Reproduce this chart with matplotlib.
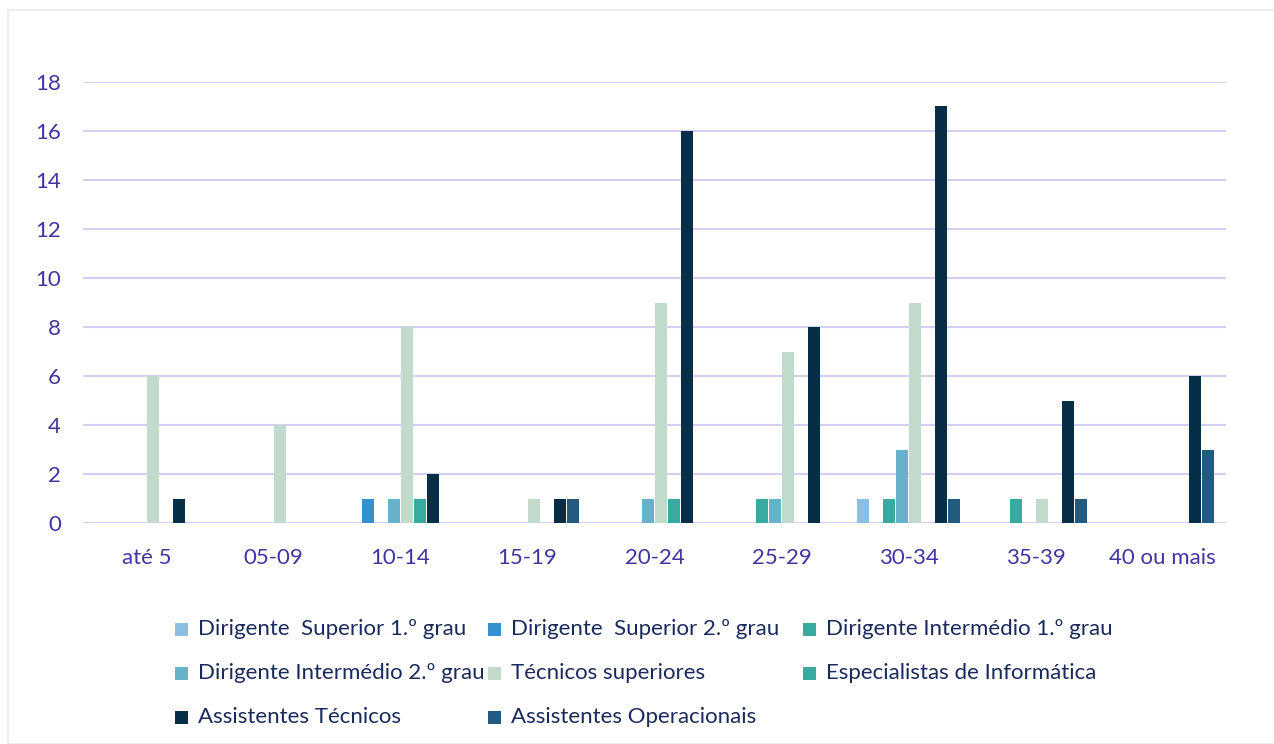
import matplotlib.pyplot as plt
from matplotlib.patches import Rectangle
import numpy as np

plt.rcParams['font.family'] = ['Lato', 'DejaVu Sans']

categories = ["até 5", "05-09", "10-14", "15-19", "20-24",
              "25-29", "30-34", "35-39", "40 ou mais"]

series_names = ["Dirigente  Superior 1.º grau",
                "Dirigente  Superior 2.º grau",
                "Dirigente Intermédio 1.º grau",
                "Dirigente Intermédio 2.º grau",
                "Técnicos superiores",
                "Especialistas de Informática",
                "Assistentes Técnicos",
                "Assistentes Operacionais"]

dir_sup_1 = [0, 0, 0, 0, 0, 0, 1, 0, 0]
dir_sup_2 = [0, 0, 1, 0, 0, 0, 0, 0, 0]
dir_int_1 = [0, 0, 0, 0, 0, 1, 1, 1, 0]
dir_int_2 = [0, 0, 1, 0, 1, 1, 3, 0, 0]
tec_sup = [6, 4, 8, 1, 9, 7, 9, 1, 0]
esp_inf = [0, 0, 1, 0, 1, 0, 0, 0, 0]
ass_tec = [1, 0, 2, 1, 16, 8, 17, 5, 6]
ass_op = [0, 0, 0, 1, 0, 0, 1, 1, 3]

series_values = [dir_sup_1, dir_sup_2, dir_int_1, dir_int_2,
                 tec_sup, esp_inf, ass_tec, ass_op]
colors = ["#8BBEE0", "#3591CF", "#37ABA0", "#67B2CB",
          "#C1DACC", "#37ABA0", "#062F47", "#235B80"]

tick_color = "#3F35A3"
legend_color = "#1B2A5C"
grid_color = "#D4CEF0"

W, H = 1274, 744
fig = plt.figure(figsize=(W / 100, H / 100), dpi=100)

# light frame around the chart
fig.patches.append(Rectangle((8 / W, 0), 1.2, (H - 10) / H,
                             transform=fig.transFigure, fill=False,
                             edgecolor="#EBEBEB", linewidth=1.2))

ax = fig.add_axes([83 / W, (H - 523) / H, (1226 - 83) / W, (523 - 82) / H])

x = np.arange(len(categories))
step = 0.102
width = 0.094
for k, (vals, col) in enumerate(zip(series_values, colors)):
    ax.bar(x + (k - 3.5) * step, vals, width=width, color=col,
           linewidth=0, zorder=3)

ax.set_xlim(-0.5, len(categories) - 0.5)
ax.set_ylim(0, 18)
ax.set_yticks(range(0, 19, 2))
ax.set_xticks(x)
ax.set_xticklabels(categories)
ax.grid(axis="y", color=grid_color, linewidth=1.5, zorder=0)
ax.tick_params(axis="both", length=0, labelsize=16, labelcolor=tick_color)
ax.tick_params(axis="y", pad=16)
ax.tick_params(axis="x", pad=18)
for s in ax.spines.values():
    s.set_visible(False)

# legend, three columns laid out row by row
col_x = [181, 494, 809]
row_y = [629, 673, 717]
sq = 13
for k, (name, col) in enumerate(zip(series_names, colors)):
    r, c = divmod(k, 3)
    px, py = col_x[c], row_y[r]
    fig.patches.append(Rectangle(((px - sq / 2) / W, (H - py - sq / 2) / H),
                                 sq / W, sq / H, transform=fig.transFigure,
                                 facecolor=col, edgecolor="none"))
    fig.text((px + 17) / W, (H - py) / H, name, fontsize=16,
             color=legend_color, va="center", ha="left")

fig.savefig("out.png", dpi=100, facecolor="white")
